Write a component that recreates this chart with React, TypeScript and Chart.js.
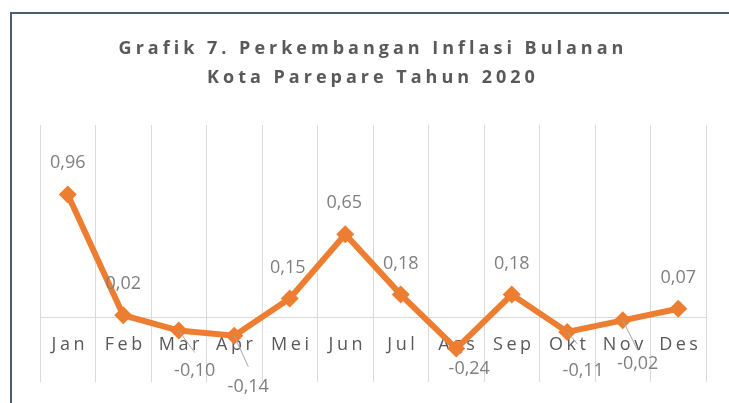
import React, { useEffect, useRef } from "react";
import { Chart, registerables } from "chart.js";

Chart.register(...registerables);

const months = ["Jan", "Feb", "Mar", "Apr", "Mei", "Jun", "Jul", "Ags", "Sep", "Okt", "Nov", "Des"];
const inflation = [0.96, 0.02, -0.1, -0.14, 0.15, 0.65, 0.18, -0.24, 0.18, -0.11, -0.02, 0.07];
const titleLines = ["Grafik 7. Perkembangan Inflasi Bulanan", "Kota Parepare Tahun 2020"];

// label placement (offset of label centre from its point), and leader line ends
const labelOffsets: [number, number][] = [
  [0, -32], [0, -31], [16, 40], [14, 51], [-2, -31], [-1, -31],
  [0, -31], [13, 20], [0, -31], [16, 39], [15, 44], [0, -31],
];
const leaderEnds: ([number, number] | null)[] = [
  null, null, [16, 22], [14, 31], null, null, null, null, null, [10, 12], [15, 30], null,
];

const fmt = (v: number) => v.toFixed(2).replace(".", ",");

const decoPlugin = {
  id: "deco",
  beforeDraw(chart: any) {
    chart.ctx.letterSpacing = "4px";
  },
  beforeDatasetsDraw(chart: any) {
    const ctx = chart.ctx;
    ctx.letterSpacing = "0px";
    ctx.save();
    ctx.letterSpacing = "3.5px";
    ctx.font = '18px "Open Sans"';
    ctx.fillStyle = "#595959";
    ctx.textAlign = "center";
    ctx.textBaseline = "middle";
    const xs = chart.scales.x;
    const ys = chart.scales.y;
    const yLab = ys.getPixelForValue(0) + 27;
    months.forEach((m, i) => {
      ctx.fillText(m, xs.getPixelForValue(i) + 2, yLab);
    });
    ctx.restore();
  },
  afterDatasetsDraw(chart: any) {
    const ctx = chart.ctx;
    const meta = chart.getDatasetMeta(0);
    ctx.save();
    ctx.letterSpacing = "0px";
    ctx.strokeStyle = "#a6a6a6";
    ctx.lineWidth = 1;
    meta.data.forEach((pt: any, i: number) => {
      const le = leaderEnds[i];
      if (le) {
        ctx.beginPath();
        ctx.moveTo(pt.x, pt.y);
        ctx.lineTo(pt.x + le[0], pt.y + le[1]);
        ctx.stroke();
      }
    });
    ctx.font = '18px "Open Sans"';
    ctx.fillStyle = "#7f7f7f";
    ctx.textAlign = "center";
    ctx.textBaseline = "middle";
    meta.data.forEach((pt: any, i: number) => {
      const [dx, dy] = labelOffsets[i];
      ctx.fillText(fmt(inflation[i]), pt.x + dx, pt.y + dy);
    });
    ctx.restore();
  },
};

export default function App() {
  const ref = useRef<HTMLCanvasElement>(null);
  useEffect(() => {
    if (!ref.current) return;
    const chart = new Chart(ref.current, {
      type: "line",
      data: {
        labels: months,
        datasets: [
          {
            data: inflation,
            borderColor: "#ED7D31",
            backgroundColor: "#ED7D31",
            borderWidth: 6,
            pointStyle: "rectRot",
            pointRadius: 9,
            pointBorderWidth: 0,
            pointBackgroundColor: "#ED7D31",
            tension: 0,
          },
        ],
      },
      options: {
        responsive: false,
        animation: false,
        devicePixelRatio: 1,
        layout: { padding: { left: 40, right: 23, top: 10, bottom: 21 } },
        plugins: {
          legend: { display: false },
          tooltip: { enabled: false },
          title: {
            display: true,
            text: titleLines,
            color: "#595959",
            font: { family: "Open Sans", size: 18, weight: "bold", lineHeight: 29 / 18 },
            padding: { top: 24.5, bottom: 32.5 },
          },
        },
        scales: {
          x: {
            offset: true,
            grid: { display: true, color: "#d9d9d9", lineWidth: 1, drawTicks: false, offset: true },
            ticks: { display: false },
            border: { display: false },
          },
          y: {
            min: -0.5,
            max: 1.5,
            ticks: { display: false, stepSize: 0.5 },
            grid: {
              drawTicks: false,
              color: (c: any) => (Math.abs(c.tick.value) < 1e-9 ? "#d9d9d9" : "rgba(0,0,0,0)"),
            },
            border: { display: false },
          },
        },
      },
      plugins: [decoPlugin],
    });
    return () => chart.destroy();
  }, []);

  return (
    <div
      style={{
        position: "fixed",
        left: 0,
        top: 0,
        width: 729,
        height: 403,
        overflow: "hidden",
        background: "#fff",
      }}
    >
      <div
        style={{
          position: "absolute",
          left: 10,
          top: 12,
          width: 780,
          height: 460,
          border: "2px solid #4d5d73",
          boxSizing: "border-box",
        }}
      />
      <canvas ref={ref} width={729} height={403} style={{ position: "absolute", left: 0, top: 0 }} />
    </div>
  );
}
